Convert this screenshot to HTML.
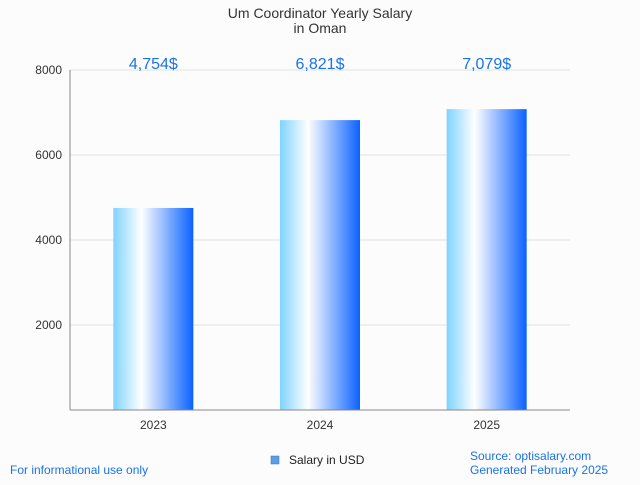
<!DOCTYPE html>
<html><head><meta charset="utf-8"><style>
body{margin:0;background:#fcfcfc;font-family:"Liberation Sans",sans-serif}
svg text{font-family:"Liberation Sans",sans-serif}
</style></head><body>
<svg id="chart" width="640" height="480" viewBox="0 0 640 480">
<defs><linearGradient id="bg" x1="0" x2="1" y1="0" y2="0">
<stop offset="0" stop-color="#7fd3ff"/><stop offset="0.35" stop-color="#ffffff"/><stop offset="1" stop-color="#0a62ff"/>
</linearGradient></defs>
<rect width="640" height="480" fill="#fcfcfc"/>
<text x="320" y="18" text-anchor="middle" font-size="14" fill="#333">Um Coordinator Yearly Salary</text>
<text x="320" y="33" text-anchor="middle" font-size="14" fill="#333">in Oman</text>
<g id="grid"></g><g id="bars"></g>
<line x1="70" y1="70" x2="70" y2="410" stroke="#888"/>
<line x1="70" y1="410" x2="570" y2="410" stroke="#888"/>
<rect x="271" y="456" width="8" height="8" fill="#5b9ee8" stroke="#3a6fb0" stroke-width="0.5"/>
<text x="289" y="464" font-size="12" fill="#222">Salary in USD</text>
<text x="10" y="474" font-size="12" fill="#1a73e8">For informational use only</text>
<text x="470" y="460" font-size="12" fill="#1a73e8">Source: optisalary.com</text>
<text x="470" y="474" font-size="12" fill="#1a73e8">Generated February 2025</text>
</svg>
<script>
const categories=["2023","2024","2025"];
const values=[4754,6821,7079];
const valueLabels=["4,754$","6,821$","7,079$"];
const yTicks=[2000,4000,6000,8000];
const NS="http://www.w3.org/2000/svg";
const x0=70,x1=570,yTop=70,yBot=410,yMax=8000;
const y=v=>yBot-(v/yMax)*(yBot-yTop);
const band=(x1-x0)/categories.length;
const xc=i=>x0+band*(i+0.5);
function mk(t,a,p){const e=document.createElementNS(NS,t);for(const k in a)e.setAttribute(k,a[k]);p.appendChild(e);return e;}
const grid=document.getElementById('grid'),bars=document.getElementById('bars');
yTicks.forEach(t=>{
 const l=mk('line',{x1:x0,x2:x1,y1:y(t),y2:y(t),stroke:'#e2e2e2'},grid);
 
 
 const tx=mk('text',{x:x0-8,y:y(t)+4,'text-anchor':'end','font-size':12,fill:'#333'},grid);
 tx.textContent=t;
 
 
});
categories.forEach((c,i)=>{
 const w=80;
 const r=mk('rect',{x:xc(i)-w/2,y:y(values[i]),width:w,height:yBot-y(values[i]),fill:'url(#bg)'},bars);
 
 
 const lb=mk('text',{x:xc(i),y:69,'text-anchor':'middle','font-size':16,fill:'#1a73e8'},bars);
 lb.textContent=valueLabels[i];
 
 
 const xt=mk('text',{x:xc(i),y:429,'text-anchor':'middle','font-size':12,fill:'#333'},bars);
 xt.textContent=c;
 
 
});
</script>
</body></html>
